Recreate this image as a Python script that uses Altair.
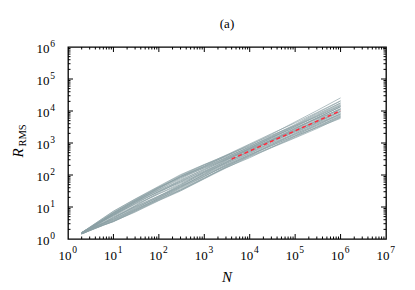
import altair as alt
import pandas as pd

# ---- data ----
N_points = [2, 3, 6, 10, 30, 100, 300, 1000, 3000, 10000, 30000, 100000, 300000, 1000000]

# log10(R_RMS) of each run at N_points
runs_log10_R = [
    [0.20, 0.36, 0.63, 0.83, 1.21, 1.59, 1.95, 2.28, 2.59, 2.93, 3.27, 3.66, 4.01, 4.41],
    [0.19, 0.34, 0.61, 0.82, 1.19, 1.61, 1.96, 2.26, 2.54, 2.89, 3.22, 3.58, 3.93, 4.31],
    [0.16, 0.27, 0.44, 0.55, 0.87, 1.21, 1.53, 1.90, 2.24, 2.59, 2.87, 3.18, 3.49, 3.81],
    [0.18, 0.33, 0.58, 0.76, 1.08, 1.41, 1.70, 2.04, 2.40, 2.77, 3.10, 3.46, 3.78, 4.13],
    [0.19, 0.30, 0.49, 0.63, 0.96, 1.30, 1.67, 2.08, 2.44, 2.80, 3.09, 3.40, 3.68, 3.98],
    [0.20, 0.35, 0.62, 0.82, 1.22, 1.62, 1.92, 2.22, 2.48, 2.78, 3.05, 3.34, 3.61, 3.91],
    [0.17, 0.28, 0.47, 0.59, 0.91, 1.27, 1.57, 1.95, 2.32, 2.67, 2.96, 3.26, 3.53, 3.83],
    [0.18, 0.32, 0.56, 0.75, 1.14, 1.55, 1.91, 2.27, 2.60, 2.95, 3.24, 3.54, 3.83, 4.18],
    [0.16, 0.26, 0.43, 0.54, 0.86, 1.24, 1.61, 2.03, 2.38, 2.74, 3.07, 3.44, 3.77, 4.14],
    [0.19, 0.33, 0.57, 0.72, 1.04, 1.45, 1.82, 2.19, 2.51, 2.82, 3.10, 3.42, 3.74, 4.06],
    [0.18, 0.29, 0.48, 0.61, 0.93, 1.26, 1.54, 1.92, 2.23, 2.54, 2.86, 3.21, 3.50, 3.85],
    [0.20, 0.36, 0.65, 0.86, 1.24, 1.63, 1.99, 2.32, 2.57, 2.86, 3.13, 3.45, 3.78, 4.13],
    [0.17, 0.31, 0.54, 0.69, 1.01, 1.35, 1.66, 2.00, 2.31, 2.63, 2.91, 3.23, 3.56, 3.91],
    [0.19, 0.34, 0.60, 0.79, 1.17, 1.52, 1.81, 2.12, 2.42, 2.72, 2.99, 3.29, 3.56, 3.87],
    [0.16, 0.27, 0.45, 0.58, 0.90, 1.23, 1.52, 1.89, 2.26, 2.62, 2.95, 3.31, 3.63, 3.99],
    [0.18, 0.33, 0.60, 0.77, 1.15, 1.58, 1.94, 2.25, 2.54, 2.88, 3.20, 3.56, 3.90, 4.25],
    [0.19, 0.31, 0.50, 0.65, 1.03, 1.42, 1.74, 2.07, 2.36, 2.68, 3.00, 3.35, 3.64, 3.95],
    [0.17, 0.29, 0.49, 0.62, 0.94, 1.33, 1.70, 2.11, 2.46, 2.83, 3.16, 3.51, 3.82, 4.17],
    [0.20, 0.35, 0.61, 0.80, 1.18, 1.54, 1.88, 2.23, 2.52, 2.83, 3.15, 3.51, 3.85, 4.21],
    [0.16, 0.26, 0.43, 0.55, 0.84, 1.20, 1.50, 1.88, 2.22, 2.57, 2.85, 3.16, 3.45, 3.80],
    [0.18, 0.32, 0.57, 0.75, 1.11, 1.49, 1.85, 2.17, 2.47, 2.81, 3.09, 3.39, 3.66, 4.00],
    [0.19, 0.34, 0.58, 0.73, 1.10, 1.48, 1.78, 2.15, 2.49, 2.85, 3.18, 3.54, 3.87, 4.25],
    [0.17, 0.30, 0.50, 0.68, 1.00, 1.34, 1.63, 1.97, 2.28, 2.60, 2.93, 3.28, 3.59, 3.90],
    [0.19, 0.33, 0.58, 0.77, 1.14, 1.48, 1.77, 2.09, 2.39, 2.75, 3.07, 3.38, 3.71, 4.08],
    [0.20, 0.37, 0.66, 0.87, 1.25, 1.65, 2.01, 2.33, 2.61, 2.91, 3.18, 3.48, 3.76, 4.06],
    [0.16, 0.27, 0.44, 0.56, 0.89, 1.28, 1.64, 2.01, 2.35, 2.71, 3.03, 3.37, 3.69, 4.04],
    [0.18, 0.31, 0.52, 0.66, 0.98, 1.31, 1.60, 1.96, 2.29, 2.64, 2.92, 3.22, 3.48, 3.77],
    [0.19, 0.33, 0.60, 0.80, 1.19, 1.59, 1.96, 2.31, 2.62, 2.97, 3.29, 3.63, 3.95, 4.32],
]

fit_N = [4000, 1000000]
fit_R = [316, 10200]

x_major = [1, 10, 100, 1000, 10000, 100000, 1000000, 10000000]
x_exponents = ["0", "1", "2", "3", "4", "5", "6", "7"]
y_major = [1, 10, 100, 1000, 10000, 100000, 1000000]
y_exponents = ["0", "1", "2", "3", "4", "5", "6"]
label_base = "10"
x_minor = [m * d for d in [1, 10, 100, 1000, 10000, 100000, 1000000] for m in range(2, 10)]
y_minor = [m * d for d in [1, 10, 100, 1000, 10000, 100000] for m in range(2, 10)]

title_text = "(a)"
x_title = "N"
y_title_main = "R"
y_title_sub = "RMS"

# ---- layout ----
W, H = 318, 192
SERIF = "Liberation Serif"

rows = []
for i, run in enumerate(runs_log10_R):
    for n, v in zip(N_points, run):
        rows.append({"run": i, "N": n, "logR": v})
runs_df = pd.DataFrame(rows)
fit_df = pd.DataFrame({"N": fit_N, "R": fit_R})
xlab_df = pd.DataFrame({"tx": x_major, "base": [label_base] * len(x_major), "exp": x_exponents})
ylab_df = pd.DataFrame({"ty": y_major, "base": [label_base] * len(y_major), "exp": y_exponents})

xscale = alt.Scale(type="log", domain=[1, 1e7], nice=False)
yscale = alt.Scale(type="log", domain=[1, 1e6], nice=False)

lines = alt.Chart(runs_df).transform_calculate(
    R="pow(10, datum.logR)"
).mark_line(color="#8b9fa4", strokeWidth=0.9, opacity=0.75).encode(
    x=alt.X("N:Q", scale=xscale, axis=None),
    y=alt.Y("R:Q", scale=yscale, axis=None),
    detail="run:N",
)

fit = alt.Chart(fit_df).mark_line(color="#ff2a3c", strokeWidth=1.5, strokeDash=[4, 3]).encode(
    x=alt.X("N:Q", scale=xscale, axis=None),
    y=alt.Y("R:Q", scale=yscale, axis=None),
)


def xticks(vals, length):
    df = pd.DataFrame({"tx": vals})
    bottom = alt.Chart(df).mark_rule(color="black", strokeWidth=1).encode(
        x=alt.X("tx:Q", scale=xscale, axis=None), y=alt.value(H), y2=alt.value(H - length))
    top = alt.Chart(df).mark_rule(color="black", strokeWidth=1).encode(
        x=alt.X("tx:Q", scale=xscale, axis=None), y=alt.value(0), y2=alt.value(length))
    return [bottom, top]


def yticks(vals, length):
    df = pd.DataFrame({"ty": vals})
    left = alt.Chart(df).mark_rule(color="black", strokeWidth=1).encode(
        y=alt.Y("ty:Q", scale=yscale, axis=None), x=alt.value(0), x2=alt.value(length))
    right = alt.Chart(df).mark_rule(color="black", strokeWidth=1).encode(
        y=alt.Y("ty:Q", scale=yscale, axis=None), x=alt.value(W), x2=alt.value(W - length))
    return [left, right]


tick_layers = (xticks(x_major[1:-1], 5) + xticks(x_minor, 2.5)
               + yticks(y_major[1:-1], 5) + yticks(y_minor, 2.5))

# tick labels (10 with superscript exponent), placed through the scales
xlab_base = alt.Chart(xlab_df).mark_text(
    font=SERIF, fontSize=13, align="right", baseline="alphabetic", dx=3.5, color="black"
).encode(x=alt.X("tx:Q", scale=xscale, axis=None), y=alt.value(H + 21), text="base:N")
xlab_exp = alt.Chart(xlab_df).mark_text(
    font=SERIF, fontSize=9.5, align="left", baseline="alphabetic", dx=4.2, color="black"
).encode(x=alt.X("tx:Q", scale=xscale, axis=None), y=alt.value(H + 14), text="exp:N")
ylab_base = alt.Chart(ylab_df).mark_text(
    font=SERIF, fontSize=13, align="right", baseline="alphabetic", dy=6, color="black"
).encode(y=alt.Y("ty:Q", scale=yscale, axis=None), x=alt.value(-18.5), text="base:N")
ylab_exp = alt.Chart(ylab_df).mark_text(
    font=SERIF, fontSize=9.5, align="left", baseline="alphabetic", dy=-0.5, color="black"
).encode(y=alt.Y("ty:Q", scale=yscale, axis=None), x=alt.value(-17.8), text="exp:N")

one = pd.DataFrame({"k": [0]})
x_title_mark = alt.Chart(one).mark_text(
    text=x_title, font=SERIF, fontSize=15, fontStyle="italic", align="center",
    baseline="alphabetic", color="black"
).encode(x=alt.value(W / 2), y=alt.value(H + 43))
y_title_R = alt.Chart(one).mark_text(
    text=y_title_main, font=SERIF, fontSize=15, fontStyle="italic", angle=270,
    align="center", baseline="alphabetic", color="black"
).encode(x=alt.value(-45), y=alt.value(106))
y_title_S = alt.Chart(one).mark_text(
    text=y_title_sub, font=SERIF, fontSize=10.5, angle=270,
    align="center", baseline="alphabetic", color="black"
).encode(x=alt.value(-42), y=alt.value(88.5))
title_mark = alt.Chart(one).mark_text(
    text=title_text, font=SERIF, fontSize=13, align="center",
    baseline="alphabetic", color="black"
).encode(x=alt.value(W / 2), y=alt.value(-19))

chart = alt.layer(
    lines, fit, *tick_layers, xlab_base, xlab_exp, ylab_base, ylab_exp,
    x_title_mark, y_title_R, y_title_S, title_mark
).properties(
    width=W, height=H,
    autosize=alt.AutoSizeParams(type="none"),
    padding={"left": 60, "top": 39, "right": 20, "bottom": 50},
).configure_view(stroke="black", strokeWidth=1.3)

chart.save("out.html", embed_options={"renderer": "svg", "actions": False})
